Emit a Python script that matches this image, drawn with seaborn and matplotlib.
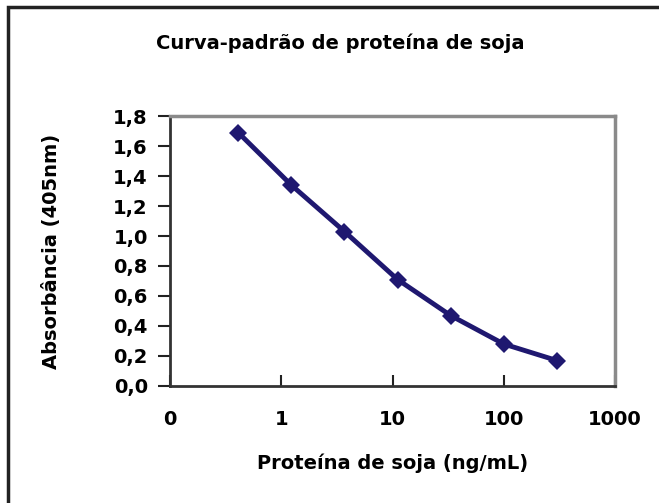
import matplotlib
matplotlib.use("Agg")
import matplotlib.pyplot as plt
from matplotlib.patches import Rectangle
from matplotlib.ticker import FixedLocator, NullLocator
import seaborn as sns
import pandas as pd

# curva-padrão: diluições seriadas 1:3
concentracao = [0.41, 1.23, 3.7, 11.1, 33.3, 100, 300]
absorbancia = [1.69, 1.34, 1.03, 0.71, 0.47, 0.28, 0.17]
x_ticks = [0.1, 1, 10, 100, 1000]
x_tick_labels = ["0", "1", "10", "100", "1000"]
y_ticks = [0.0, 0.2, 0.4, 0.6, 0.8, 1.0, 1.2, 1.4, 1.6, 1.8]
y_tick_labels = ["0,0", "0,2", "0,4", "0,6", "0,8", "1,0", "1,2", "1,4", "1,6", "1,8"]

sns.set_style("white")
plt.rcParams['font.family'] = ['DejaVu Sans']
plt.rcParams['font.weight'] = 'bold'
plt.rcParams['text.color'] = 'black'
plt.rcParams['axes.labelcolor'] = 'black'
plt.rcParams['xtick.color'] = 'black'
plt.rcParams['ytick.color'] = 'black'

fs = 14

df = pd.DataFrame({"conc": concentracao, "abs": absorbancia})

fig = plt.figure(figsize=(6.59, 5.03), dpi=100)
ax = fig.add_axes([170 / 659, 1 - 386 / 503, 445 / 659, 270 / 503])

sns.lineplot(data=df, x="conc", y="abs", ax=ax, color="#1f1870",
             linewidth=3.5, marker="D", markersize=9.5, markeredgewidth=0)

ax.set_xscale("log")
ax.set_xlim(0.1, 1000)
ax.set_ylim(0, 1.8)
ax.xaxis.set_major_locator(FixedLocator(x_ticks))
ax.xaxis.set_minor_locator(NullLocator())
ax.set_xticklabels(x_tick_labels, fontsize=fs, fontweight="bold")
ax.set_yticks(y_ticks)
ax.set_yticklabels(y_tick_labels, fontsize=fs, fontweight="bold")
ax.tick_params(axis="x", direction="in", length=8, width=1.5, color="#222222", pad=17, bottom=True)
ax.tick_params(axis="y", direction="out", length=9, width=1.5, color="#222222", pad=7, left=True)

for side in ["top", "right"]:
    ax.spines[side].set_color("#8a8a8a")
    ax.spines[side].set_linewidth(2.5)
for side in ["left", "bottom"]:
    ax.spines[side].set_color("#333333")
    ax.spines[side].set_linewidth(2)

ax.set_xlabel("Proteína de soja (ng/mL)", fontsize=fs, fontweight="bold")
ax.set_ylabel("Absorbância (405nm)", fontsize=fs, fontweight="bold")
ax.xaxis.set_label_coords(0.5, -0.25)
ax.yaxis.set_label_coords(-0.245, 0.5)

fig.text(340 / 659, 1 - 43 / 503, "Curva-padrão de proteína de soja",
         ha="center", va="center", fontsize=fs, fontweight="bold")

# borda da área do gráfico (cortada à direita e em baixo)
fig.patches.append(Rectangle((8 / 659, -0.1), 1.2, 1.1 - 7 / 503,
                             transform=fig.transFigure, fill=False,
                             edgecolor="#222222", linewidth=2.5))

fig.savefig("out.png", dpi=100)
